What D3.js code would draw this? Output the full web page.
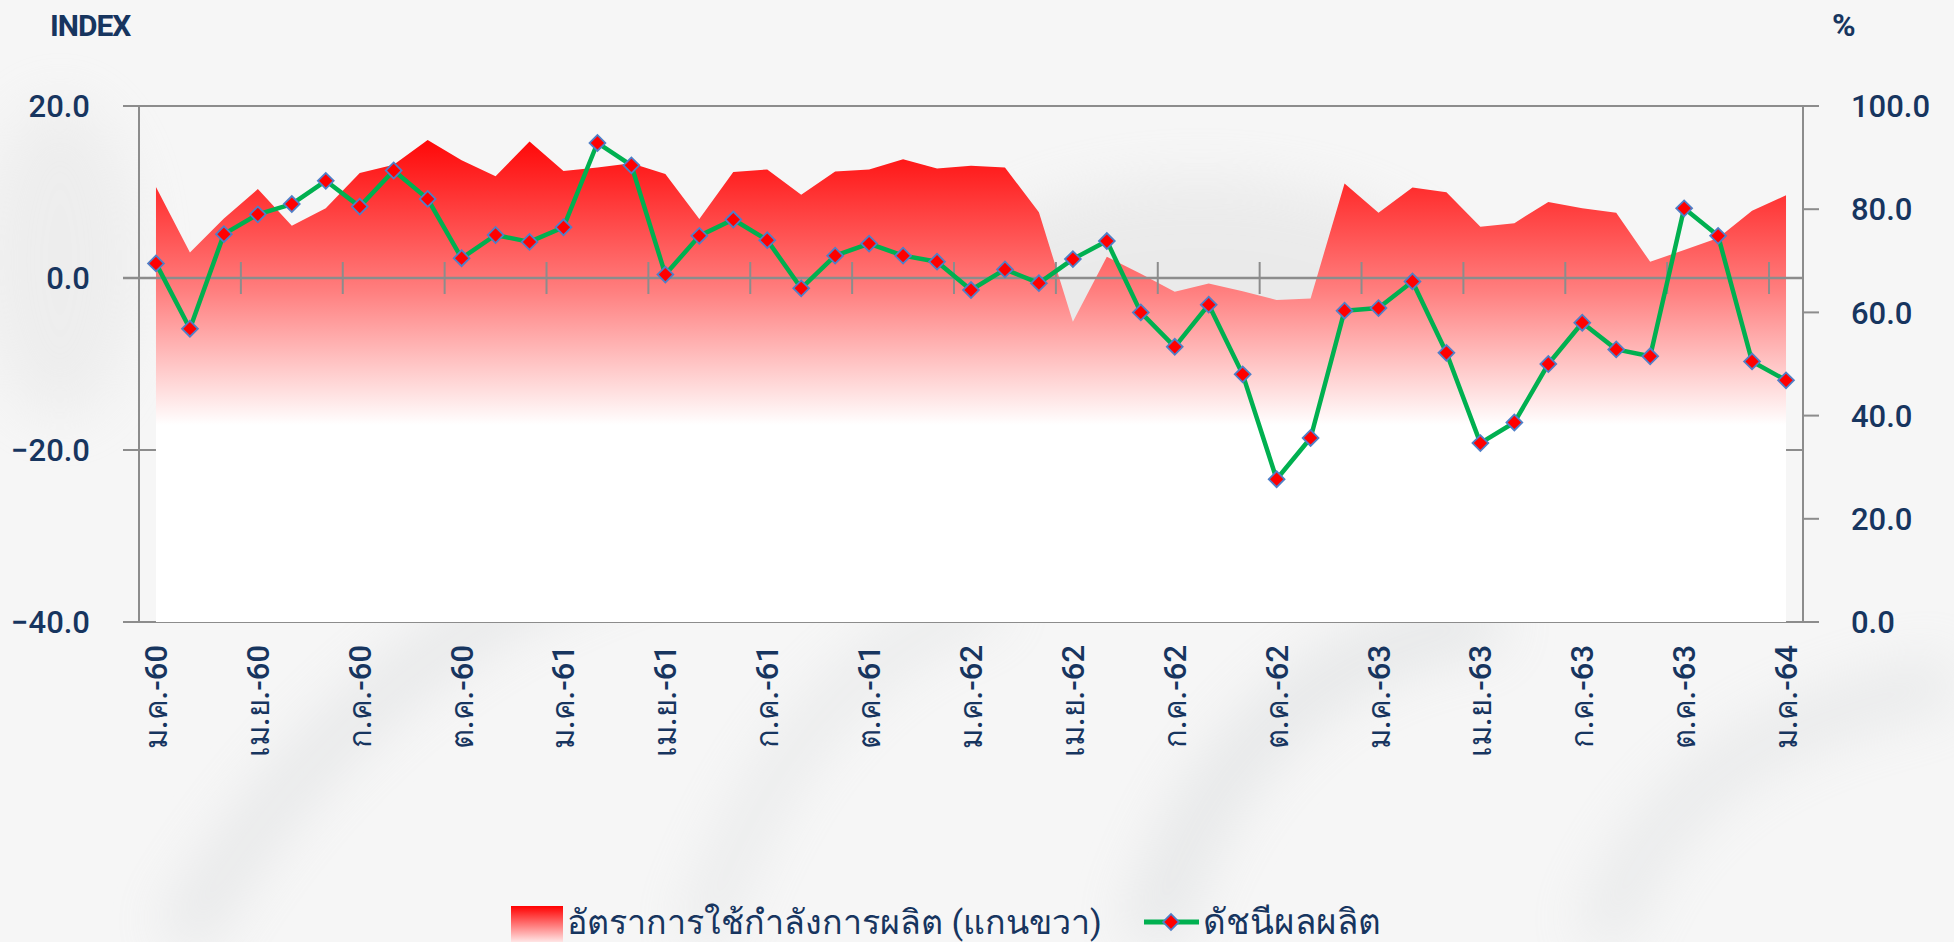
<!DOCTYPE html>
<html>
<head>
<meta charset="utf-8">
<script src="https://cdn.jsdelivr.net/npm/d3@7"></script>
<style>
  body { margin: 0; background: #f5f6f6; }
  svg { display: block; }
  text { font-family: Roboto, "Noto Sans", "DejaVu Sans", sans-serif; fill: #17355f; }
</style>
</head>
<body>
<div class="chart"></div>
<script>
// month categories (Thai abbreviations) from ม.ค.-60 to ม.ค.-64
var monthNames = ["ม.ค.", "ก.พ.", "มี.ค.", "เม.ย.", "พ.ค.", "มิ.ย.", "ก.ค.", "ส.ค.", "ก.ย.", "ต.ค.", "พ.ย.", "ธ.ค."];
var years = ["60", "61", "62", "63", "64"];
var monthCount = 49;

// production index (left axis)
var indexValues = [1.7, -5.9, 5.1, 7.4, 8.6, 11.3, 8.3, 12.5, 9.2, 2.3, 5.0, 4.2,
  5.9, 15.7, 13.1, 0.4, 4.9, 6.8, 4.4, -1.2, 2.6, 4.0, 2.6, 1.9,
  -1.4, 1.0, -0.6, 2.2, 4.3, -4.0, -8.0, -3.1, -11.2, -23.4, -18.6, -3.8,
  -3.5, -0.4, -8.7, -19.2, -16.8, -10.0, -5.2, -8.3, -9.1, 8.1, 4.9, -9.7,
  -11.9];

// capacity utilisation % (right axis)
var capacityValues = [84.3, 71.6, 78.2, 83.9, 76.8, 80.2, 87.0, 88.6, 93.4, 89.5, 86.4, 93.1,
  87.4, 88.1, 88.9, 86.8, 78.1, 87.2, 87.7, 82.8, 87.3, 87.7, 89.7, 87.9,
  88.4, 88.1, 79.4, 58.2, 70.8, 67.5, 64.0, 65.6, 64.1, 62.4, 62.7, 85.0,
  79.3, 84.2, 83.3, 76.6, 77.3, 81.4, 80.2, 79.3, 69.8, 72.1, 74.4, 79.7,
  82.7];

var leftTicks = [20, 0, -20, -40];
var rightTicks = [100, 80, 60, 40, 20, 0];
var seriesNames = ["อัตราการใช้กำลังการผลิต (แกนขวา)", "ดัชนีผลผลิต"];

var svgWidth = 1954;
var svgHeight = 942;

var plot = { left: 139, right: 1803, top: 106, bottom: 622 };

var categories = d3.range(monthCount).map(function (i) {
  return monthNames[i % 12] + "-" + years[Math.floor(i / 12)];
});

var svg = d3.select(".chart")
  .append("svg")
  .attr("width", svgWidth)
  .attr("height", svgHeight);

var defs = svg.append("defs");

defs.append("filter").attr("id", "blur")
  .attr("x", "-50%").attr("y", "-50%").attr("width", "200%").attr("height", "200%")
  .append("feGaussianBlur").attr("stdDeviation", 28);

var grad = defs.append("linearGradient")
  .attr("id", "areaFill")
  .attr("gradientUnits", "userSpaceOnUse")
  .attr("x1", 0).attr("x2", 0)
  .attr("y1", 130).attr("y2", 425);
grad.append("stop").attr("offset", "0%").attr("stop-color", "#ff0000");
grad.append("stop").attr("offset", "55%").attr("stop-color", "#ff8080");
grad.append("stop").attr("offset", "100%").attr("stop-color", "#ffffff");

var legGrad = defs.append("linearGradient")
  .attr("id", "legFill")
  .attr("x1", 0).attr("x2", 0).attr("y1", 0).attr("y2", 1);
legGrad.append("stop").attr("offset", "0%").attr("stop-color", "#ff0000");
legGrad.append("stop").attr("offset", "100%").attr("stop-color", "#ffffff");

// faint photo-like background
var bg = svg.append("g");
bg.append("rect").attr("width", svgWidth).attr("height", svgHeight).attr("fill", "#f6f6f6");
var blurG = bg.append("g").attr("filter", "url(#blur)").attr("opacity", 0.35);
blurG.append("path").attr("d", "M180,942 C320,700 520,560 760,520").attr("stroke", "#c9cccf").attr("stroke-width", 50).attr("fill", "none");
blurG.append("path").attr("d", "M700,942 C760,760 860,640 1000,600").attr("stroke", "#cfd2d4").attr("stroke-width", 40).attr("fill", "none");
blurG.append("path").attr("d", "M1150,942 C1200,760 1320,640 1500,620").attr("stroke", "#c6cacd").attr("stroke-width", 55).attr("fill", "none");
blurG.append("path").attr("d", "M1600,942 C1650,800 1750,720 1954,680").attr("stroke", "#cfd2d4").attr("stroke-width", 50).attr("fill", "none");
blurG.append("ellipse").attr("cx", 1200).attr("cy", 300).attr("rx", 260).attr("ry", 120).attr("fill", "#d6d6d6");
blurG.append("ellipse").attr("cx", 60).attr("cy", 260).attr("rx", 80).attr("ry", 160).attr("fill", "#dedede");

var x = d3.scalePoint()
  .domain(d3.range(monthCount))
  .range([plot.left, plot.right])
  .padding(0.5);

var yLeft = d3.scaleLinear()
  .domain([-40, 20])
  .range([plot.bottom, plot.top]);

var yRight = d3.scaleLinear()
  .domain([0, 100])
  .range([plot.bottom, plot.top]);

var step = x.step();
var gridColor = "#8c8c8c";

// left gridlines (behind the area)
svg.append("g").selectAll("line")
  .data(leftTicks.filter(d => d !== 0))
  .enter().append("line")
  .attr("x1", plot.left - 16)
  .attr("x2", d => (d === 20 || d === -40) ? plot.right + 16 : plot.right)
  .attr("y1", d => yLeft(d))
  .attr("y2", d => yLeft(d))
  .attr("stroke", gridColor)
  .attr("stroke-width", 2);

// capacity area
var area = d3.area()
  .x((d, i) => x(i))
  .y0(yRight(0))
  .y1(d => yRight(d));

svg.append("path")
  .datum(capacityValues)
  .attr("d", area)
  .attr("fill", "url(#areaFill)");

// axes verticals
svg.append("line")
  .attr("x1", plot.left).attr("x2", plot.left)
  .attr("y1", plot.top).attr("y2", plot.bottom)
  .attr("stroke", gridColor).attr("stroke-width", 2);
svg.append("line")
  .attr("x1", plot.right).attr("x2", plot.right)
  .attr("y1", plot.top).attr("y2", plot.bottom)
  .attr("stroke", gridColor).attr("stroke-width", 2);

// right axis ticks
svg.append("g").selectAll("line")
  .data(rightTicks)
  .enter().append("line")
  .attr("x1", plot.right).attr("x2", plot.right + 16)
  .attr("y1", d => yRight(d)).attr("y2", d => yRight(d))
  .attr("stroke", gridColor).attr("stroke-width", 2);

// zero line with category ticks
svg.append("line")
  .attr("x1", plot.left - 16).attr("x2", plot.right)
  .attr("y1", yLeft(0)).attr("y2", yLeft(0))
  .attr("stroke", gridColor).attr("stroke-width", 2.5);

var catTicks = d3.range(3, monthCount, 3);
svg.append("g").selectAll("line")
  .data(catTicks)
  .enter().append("line")
  .attr("x1", d => x(d) - step / 2).attr("x2", d => x(d) - step / 2)
  .attr("y1", yLeft(0) - 16).attr("y2", yLeft(0) + 16)
  .attr("stroke", gridColor).attr("stroke-width", 2);

// index line
var line = d3.line()
  .x((d, i) => x(i))
  .y(d => yLeft(d));

svg.append("path")
  .datum(indexValues)
  .attr("d", line)
  .attr("fill", "none")
  .attr("stroke", "#00b050")
  .attr("stroke-width", 4.5)
  .attr("stroke-linejoin", "round");

var diamond = d3.symbol().type(d3.symbolSquare).size(125);

svg.append("g").selectAll("path")
  .data(indexValues)
  .enter().append("path")
  .attr("d", diamond)
  .attr("transform", (d, i) => `translate(${x(i)},${yLeft(d)}) rotate(45)`)
  .attr("fill", "#ff0000")
  .attr("stroke", "#4f7fc8")
  .attr("stroke-width", 1.8);

// axis labels
svg.append("g").selectAll("text")
  .data(leftTicks)
  .enter().append("text")
  .attr("x", 90)
  .attr("y", d => yLeft(d))
  .attr("dy", "0.36em")
  .attr("text-anchor", "end")
  .attr("font-size", 31)
  .attr("font-weight", 500)
  .text(d => d3.format(".1f")(d));

svg.append("g").selectAll("text")
  .data(rightTicks)
  .enter().append("text")
  .attr("x", 1851)
  .attr("y", d => yRight(d))
  .attr("dy", "0.36em")
  .attr("font-size", 31)
  .attr("font-weight", 500)
  .text(d => d3.format(".1f")(d));

svg.append("text")
  .attr("x", 50).attr("y", 36)
  .attr("font-size", 30)
  .attr("font-weight", 700)
  .attr("letter-spacing", -1)
  .text("INDEX");

svg.append("text")
  .attr("x", 1832).attr("y", 36)
  .attr("font-size", 32)
  .attr("font-weight", 700)
  .text("%");

// category labels every 3 months
var labelIdx = d3.range(0, monthCount, 3);
svg.append("g").selectAll("text")
  .data(labelIdx)
  .enter().append("text")
  .attr("transform", d => `translate(${x(d) + 11},645) rotate(-90)`)
  .attr("text-anchor", "end")
  .attr("font-size", 31)
  .attr("font-weight", 500)
  .text(d => categories[d]);

// legend
var legend = svg.append("g");
legend.append("rect")
  .attr("x", 511).attr("y", 906).attr("width", 52).attr("height", 40)
  .attr("fill", "url(#legFill)");
legend.append("text")
  .attr("x", 567).attr("y", 934)
  .attr("font-size", 34)
  .text(seriesNames[0]);

legend.append("line")
  .attr("x1", 1144).attr("x2", 1199)
  .attr("y1", 922).attr("y2", 922)
  .attr("stroke", "#00b050").attr("stroke-width", 5);
legend.append("path")
  .attr("d", diamond)
  .attr("transform", "translate(1171,922) rotate(45)")
  .attr("fill", "#ff0000")
  .attr("stroke", "#4f7fc8")
  .attr("stroke-width", 1.8);
legend.append("text")
  .attr("x", 1203).attr("y", 934)
  .attr("font-size", 35)
  .text(seriesNames[1]);
</script>
</body>
</html>
